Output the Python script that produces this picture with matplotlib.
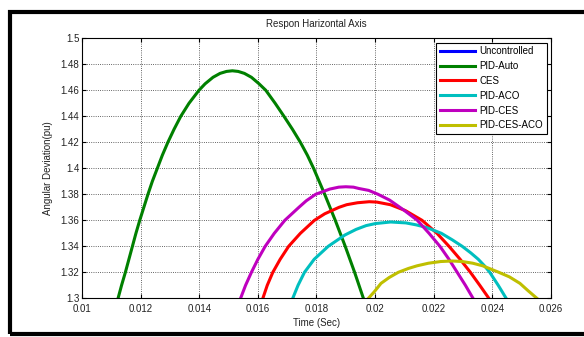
import matplotlib.pyplot as plt
from matplotlib.patches import Rectangle

plt.rcParams['font.family'] = ['Liberation Sans', 'DejaVu Sans']

# values (time, angle) pairs
auto_t = [0.01123, 0.01135, 0.01148, 0.01160, 0.01172, 0.01184, 0.01197, 0.01211,
          0.01225, 0.01240, 0.01257, 0.01274, 0.01293, 0.01314, 0.01337, 0.01365,
          0.01399, 0.01420, 0.01447, 0.01471, 0.01493, 0.01513, 0.01533, 0.01554,
          0.01578, 0.01604, 0.01627, 0.01659, 0.01689, 0.01718, 0.01745, 0.01769,
          0.01790, 0.01809, 0.01828, 0.01846, 0.01864, 0.01881, 0.01898, 0.01914,
          0.01930, 0.01945, 0.01960]
auto_v = [1.30, 1.31, 1.32, 1.33, 1.34, 1.35, 1.36, 1.37,
          1.38, 1.39, 1.40, 1.41, 1.42, 1.43, 1.44, 1.45,
          1.46, 1.465, 1.47, 1.473, 1.4745, 1.475, 1.4745, 1.473,
          1.47, 1.465, 1.46, 1.45, 1.44, 1.43, 1.42, 1.41,
          1.40, 1.39, 1.38, 1.37, 1.36, 1.35, 1.34, 1.33,
          1.32, 1.31, 1.30]

ces_t = [0.01617, 0.01632, 0.01651, 0.01676, 0.01705, 0.01745, 0.01793, 0.01828,
         0.01877, 0.01903, 0.01940, 0.01980, 0.02006, 0.02052, 0.02103, 0.02160,
         0.02211, 0.02252, 0.02290, 0.02325, 0.02357, 0.02388]
ces_v = [1.30, 1.31, 1.32, 1.33, 1.34, 1.35, 1.36, 1.365,
         1.37, 1.372, 1.3735, 1.3743, 1.374, 1.372, 1.3675, 1.36,
         1.35, 1.34, 1.33, 1.32, 1.31, 1.30]

aco_t = [0.01719, 0.01737, 0.01759, 0.01792, 0.01840, 0.01897, 0.01935, 0.01969,
         0.02001, 0.02053, 0.02105, 0.02140, 0.02175, 0.02226, 0.02263, 0.02297,
         0.02326, 0.02352, 0.02373, 0.02391, 0.02420, 0.02447]
aco_v = [1.30, 1.31, 1.32, 1.33, 1.34, 1.3487, 1.353, 1.3559,
         1.3575, 1.3587, 1.358, 1.3565, 1.3545, 1.35, 1.345, 1.34,
         1.335, 1.33, 1.325, 1.32, 1.31, 1.30]

pidces_t = [0.01541, 0.01558, 0.01578, 0.01600, 0.01625, 0.01656, 0.01692, 0.01740,
            0.01765, 0.01797, 0.01845, 0.01876, 0.01900, 0.01926, 0.01944, 0.01978,
            0.02010, 0.02049, 0.02097, 0.02144, 0.02184, 0.02221, 0.02252, 0.02280,
            0.02308, 0.02334]
pidces_v = [1.30, 1.31, 1.32, 1.33, 1.34, 1.35, 1.36, 1.37,
            1.375, 1.38, 1.384, 1.3855, 1.3858, 1.3855, 1.3845, 1.383,
            1.38, 1.3756, 1.368, 1.36, 1.35, 1.34, 1.33, 1.32,
            1.31, 1.30]

cesaco_t = [0.01977, 0.01997, 0.02020, 0.02048, 0.02079, 0.02114, 0.02143, 0.02182,
            0.02224, 0.02263, 0.02297, 0.02333, 0.02367, 0.02422, 0.02458, 0.02494,
            0.02521, 0.02552]
cesaco_v = [1.30, 1.305, 1.3115, 1.316, 1.32, 1.323, 1.325, 1.327,
            1.3283, 1.3287, 1.3283, 1.327, 1.325, 1.32, 1.3165, 1.3115,
            1.306, 1.30]

xticks = [0.01, 0.012, 0.014, 0.016, 0.018, 0.02, 0.022, 0.024, 0.026]
xticklabels = ['0.01', '0.012', '0.014', '0.016', '0.018', '0.02', '0.022', '0.024', '0.026']
yticks = [1.3, 1.32, 1.34, 1.36, 1.38, 1.4, 1.42, 1.44, 1.46, 1.48, 1.5]
yticklabels = ['1.3', '1.32', '1.34', '1.36', '1.38', '1.4', '1.42', '1.44', '1.46', '1.48', '1.5']

fig = plt.figure(figsize=(5.84, 3.37), dpi=100)
ax = fig.add_axes([0.1404, 0.1148, 0.8031, 0.7716])

lw = 2.2
ax.plot([], [], color=(0, 0, 1), lw=lw, label='Uncontrolled')
ax.plot(auto_t, auto_v, color=(0, 0.5, 0), lw=lw, label='PID-Auto')
ax.plot(ces_t, ces_v, color=(1, 0, 0), lw=lw, label='CES')
ax.plot(aco_t, aco_v, color=(0, 0.75, 0.75), lw=lw, label='PID-ACO')
ax.plot(pidces_t, pidces_v, color=(0.75, 0, 0.75), lw=lw, label='PID-CES')
ax.plot(cesaco_t, cesaco_v, color=(0.75, 0.75, 0), lw=lw, label='PID-CES-ACO')

ax.set_xlim(0.01, 0.026)
ax.set_ylim(1.3, 1.5)
ax.set_xticks(xticks)
ax.set_xticklabels(xticklabels)
ax.set_yticks(yticks)
ax.set_yticklabels(yticklabels)
ax.tick_params(direction='in', top=True, right=True, length=3, width=0.8,
               labelsize=7, labelcolor='#222222')
ax.tick_params(axis='x', pad=4)
ax.tick_params(axis='y', pad=2)
ax.grid(True, color='#333333', linestyle=':', linewidth=0.6)
for s in ax.spines.values():
    s.set_linewidth(0.8)

ax.set_title('Respon Harizontal Axis', fontsize=7, pad=8, color='#222222')
ax.set_xlabel('Time (Sec)', fontsize=7, labelpad=3, color='#222222')
ax.set_ylabel('Angular Deviation(pu)', fontsize=7, labelpad=5, color='#222222')

leg = ax.legend(loc='upper right', fontsize=7, fancybox=False, framealpha=1,
                edgecolor='black', handlelength=3.6, handletextpad=0.5,
                labelspacing=0.5, borderaxespad=0.45, borderpad=0.35)
leg.get_frame().set_linewidth(0.8)

# thick frame round the whole picture
fig.patches.append(Rectangle((10 / 584, 1 - 333.5 / 337), 1.0, (333.5 - 11.5) / 337,
                             transform=fig.transFigure, fill=False,
                             edgecolor='black', linewidth=3))

fig.savefig('out.png', dpi=100)
